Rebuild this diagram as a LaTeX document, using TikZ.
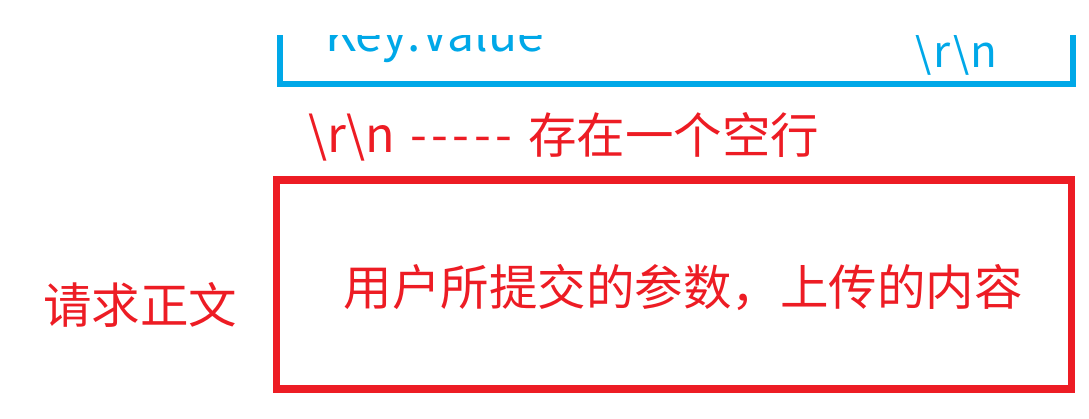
\documentclass[tikz,border=0pt]{standalone}
\usepackage{fontspec}
\newfontfamily\cjk{Noto Sans CJK SC}
\definecolor{hblue}{RGB}{0,168,232}
\definecolor{hred}{RGB}{237,28,36}
\begin{document}
\begin{tikzpicture}[x=1pt,y=-1pt,
  bluetxt/.style={text=hblue,font=\cjk\fontsize{48}{52}\selectfont,inner sep=0pt},
  redtxt/.style={text=hred,font=\cjk\fontsize{48.5}{52}\selectfont,inner sep=0pt},
  bluebox/.style={draw=hblue,line width=6.5pt},
  redbox/.style={draw=hred,line width=7.2pt}]
\useasboundingbox (0,0) rectangle (1089,418);
\begin{scope}
  \clip (0,35.7) rectangle (1089,418);
  \draw[bluebox] (280,10) -- (280,84) -- (1073,84) -- (1073,10);
  \node[bluetxt,anchor=base west] (kv) at (325,51) {Key:Value};
  \node[bluetxt,anchor=base west,font=\cjk\fontsize{44}{48}\selectfont] (crlf) at (914,67) {\textbackslash\kern2pt r\kern2pt\textbackslash\kern1pt n};
\end{scope}
\node[redtxt,anchor=base west] (crlf2) at (308,152) {\textbackslash r\textbackslash n};
\node[redtxt,anchor=base west] (dashes) at (410,152) {-\kern4.5pt-\kern4.5pt-\kern4.5pt-\kern4.5pt-};
\node[redtxt,anchor=base west] (blank) at (528,153) {存在一个空行};
\node[redbox,minimum width=795.2pt,minimum height=209pt,anchor=north west,inner sep=0pt,outer sep=0pt] (body) at (276.5,180) {};
\node[redtxt] (content) at (683,288) {用户所提交的参数，上传的内容};
\node[redtxt] (label) at (140,305) {请求正文};
\end{tikzpicture}
\end{document}
